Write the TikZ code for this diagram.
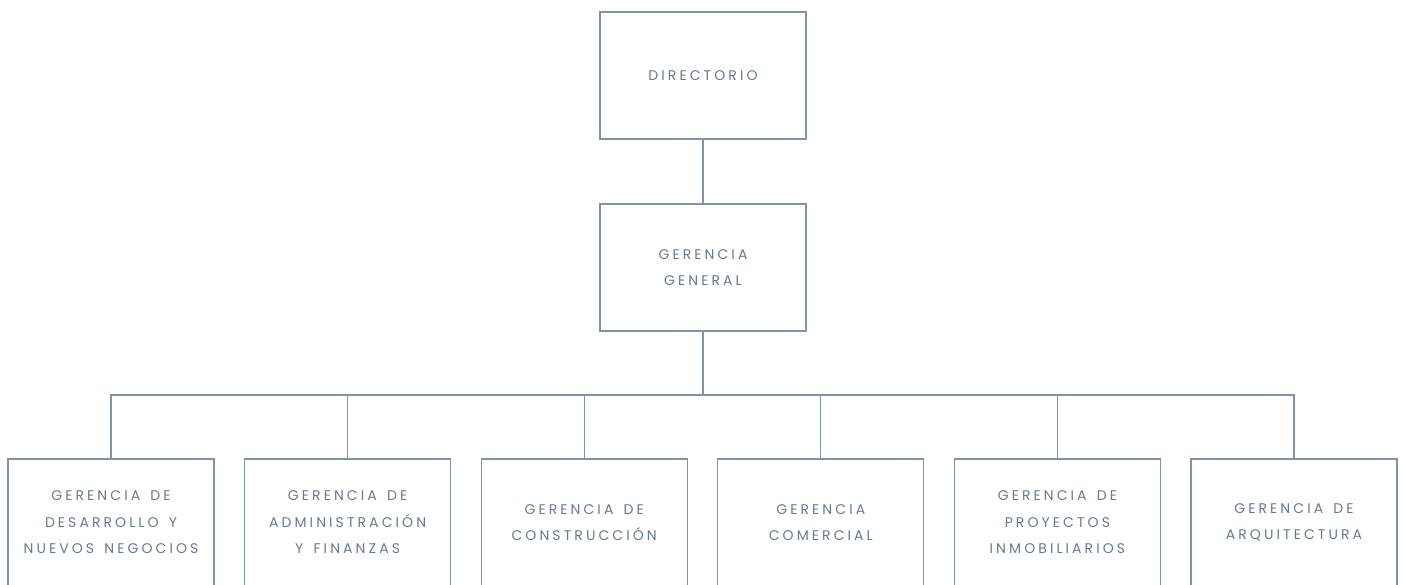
\documentclass[tikz,border=0pt]{standalone}
\usepackage{fontspec}
\setmainfont[LetterSpace=22, WordSpace=1.5]{Poppins}
\usetikzlibrary{positioning}
\definecolor{linegray}{RGB}{128,148,168}
\definecolor{textgray}{RGB}{100,122,145}

\begin{document}
\begin{tikzpicture}[x=1pt, y=-1pt,
		box/.style={draw=linegray, line width=1.2pt, minimum width=206pt, minimum height=127pt,
			inner sep=0pt, align=center, text=textgray, font=\fontsize{14}{26.5}\selectfont},
		link/.style={draw=linegray, line width=1.2pt}]
		\useasboundingbox (0, 0) rectangle (1403, 584);
		\clip (0, 0) rectangle (1403, 584);

		% Top of the chart
		\node[box] (dir) at (703, 75.5) {DIRECTORIO};
		\node[box, below=63.8pt of dir] (gg) {GERENCIA\\GENERAL};

		% Managements
		\node[box] (desarrollo) at (111, 522.5) {GERENCIA DE\\DESARROLLO Y\\NUEVOS NEGOCIOS};
		\node[box, right=29.4pt of desarrollo] (admin) {GERENCIA DE\\ADMINISTRACIÓN\\Y FINANZAS};
		\node[box, right=29.4pt of admin] (constr) {GERENCIA DE\\CONSTRUCCIÓN};
		\node[box, right=29.4pt of constr] (comercial) {GERENCIA\\COMERCIAL};
		\node[box, right=29.4pt of comercial] (proyectos) {GERENCIA DE\\PROYECTOS\\INMOBILIARIOS};
		\node[box, right=29.4pt of proyectos] (arq) {GERENCIA DE\\ARQUITECTURA};

		% Lines
		\coordinate (bar) at (703, 395);
		\draw[link] (dir) -- (gg);
		\draw[link] (gg) -- (bar);
		\foreach \n in {desarrollo, admin, constr, comercial, proyectos, arq}
			\draw[link] (bar) -| (\n.north);
	\end{tikzpicture}
\end{document}
